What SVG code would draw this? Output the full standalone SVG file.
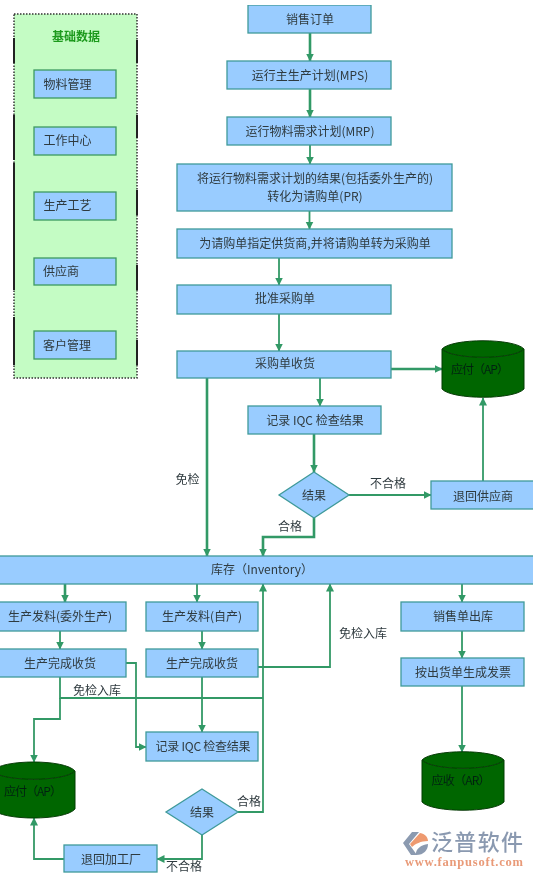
<svg xmlns="http://www.w3.org/2000/svg" width="533" height="876" viewBox="0 0 533 876">
<defs>
<style>
.b{fill:#99ccff;stroke:#3f9a9a;stroke-width:1.3}
.g{fill:#99ccff;stroke:#3d9a60;stroke-width:1.3}
.t{font-family:"Noto Sans CJK SC","Noto Sans",sans-serif;font-size:12px;fill:#2f3a3f;text-anchor:middle}
.c{fill:none;stroke:#339966;stroke-width:1.8;marker-end:url(#a)}
.h{stroke-width:2.6}
.n{fill:none;stroke:#339966;stroke-width:1.8}
.cy{fill:#006600;stroke:#0b3d0b;stroke-width:1}
.cl{fill:none;stroke:#0b3d0b;stroke-width:1}
.d{fill:#06240f}
.s{stroke:#222;stroke-width:2;fill:none}
</style>
<marker id="a" markerUnits="userSpaceOnUse" markerWidth="9" markerHeight="10" refX="7.5" refY="4" orient="auto"><path d="M0 0L8 4L0 8Z" fill="#339966"/></marker>
<filter id="soft" x="0" y="0" width="100%" height="100%"><feGaussianBlur stdDeviation="0.35"/></filter>
</defs>
<rect width="533" height="876" fill="#fff"/>
<g filter="url(#soft)">
<g id="connectors">
<path class="c h" d="M310 33V61"/><path class="c h" d="M310 89V117"/><path class="c" d="M310 145V164"/><path class="c" d="M309.500 211V229"/><path class="c" d="M279 258V285"/><path class="c" d="M279 314V351"/>
<path class="c h" d="M391 369H442"/><path class="c h" d="M207 378V556"/><path class="c" d="M320 378V406"/><path class="c h" d="M314 434V472"/><path class="c" d="M349 495H431"/><path class="c h" d="M314 518V537H263V556"/><path class="c" d="M483 481V398"/>
<path class="c h" d="M65 584V602"/><path class="c" d="M197 584V602"/><path class="c" d="M60 631V649"/><path class="c" d="M202 631V649"/><path class="c" d="M202 677V732"/>
<path class="c" d="M126 663H136V747H146"/><path class="n" d="M60 677V698H263"/><path class="c" d="M60 698V719H34V762"/><path class="c" d="M258 667H330V584"/><path class="c" d="M238 812H263V584"/>
<path class="c" d="M202 835V859H157"/><path class="c" d="M64 859H34V818"/>
<path class="c" d="M462 584V602"/><path class="c" d="M462 631V658"/><path class="c" d="M462 686V752"/>
</g>
<g id="panel"><rect x="14" y="14" width="123" height="364" fill="#c4fcc4" stroke="#333" stroke-width="1.5" stroke-dasharray="1.500 1.500"/>
<path class="s" d="M14 38V63M14 115V160M14 163V290M14 317V365M137 40V63M137 115V138M137 190V215M137 265V290M137 340V365"/>
<text x="76" y="41" class="t" style="fill:#1f9a1f;font-weight:700">基础数据</text></g>
<g id="n-material"><rect class="g" x="34" y="70" width="82" height="28"/><text x="67.500" y="89" class="t">物料管理</text></g>
<g id="n-workcenter"><rect class="g" x="34" y="127" width="82" height="28"/><text x="67.500" y="145" class="t">工作中心</text></g>
<g id="n-process"><rect class="g" x="34" y="192" width="82" height="28"/><text x="67.500" y="210" class="t">生产工艺</text></g>
<g id="n-supplier"><rect class="g" x="34" y="258" width="82" height="27"/><text x="61" y="276" class="t">供应商</text></g>
<g id="n-customer"><rect class="g" x="34" y="331" width="82" height="28"/><text x="67" y="350" class="t">客户管理</text></g>
<g id="n-so"><rect class="b" x="248" y="5" width="123" height="28"/><text x="310" y="24" class="t">销售订单</text></g>
<g id="n-mps"><rect class="b" x="227" y="61" width="164" height="28"/><text x="310" y="80" class="t">运行主生产计划(MPS)</text></g>
<g id="n-mrp"><rect class="b" x="227" y="117" width="164" height="28"/><text x="310" y="136" class="t">运行物料需求计划(MRP)</text></g>
<g id="n-pr"><rect class="b" x="177" y="164" width="275" height="47"/><text x="315" y="183" class="t">将运行物料需求计划的结果(包括委外生产的)</text><text x="315" y="201" class="t">转化为请购单(PR)</text></g>
<g id="n-po"><rect class="b" x="177" y="229" width="275" height="29"/><text x="315" y="248" class="t">为请购单指定供货商,并将请购单转为采购单</text></g>
<g id="n-approve"><rect class="b" x="177" y="285" width="214" height="29"/><text x="285" y="303" class="t">批准采购单</text></g>
<g id="n-receive"><rect class="b" x="177" y="351" width="214" height="27"/><text x="285" y="368" class="t">采购单收货</text></g>
<g id="n-iqc"><rect class="b" x="248" y="406" width="133" height="28"/><text x="315" y="425" class="t">记录 IQC 检查结果</text></g>
<g id="n-dec"><path d="M314 472L349 495L314 518L279 495Z" class="b"/><text x="314" y="500" class="t">结果</text></g>
<g id="n-return"><rect class="b" x="431" y="481" width="103" height="28"/><text x="483" y="501" class="t">退回供应商</text></g>
<g id="n-ap"><path class="cy" d="M442 349C452 338 514 338 524 349V389C514 400 452 400 442 389Z"/><path class="cl" d="M442 349C452 360 514 360 524 349"/><text x="480" y="374" class="t d" textLength="58">应付（AP）</text></g>
<g id="n-inv"><rect class="b" x="-2" y="556" width="537" height="28"/><text x="262" y="574" class="t">库存（Inventory）</text></g>
<g id="n-issue1"><rect class="b" x="-2" y="602" width="128" height="29"/><text x="60" y="621" class="t">生产发料(委外生产)</text></g>
<g id="n-issue2"><rect class="b" x="146" y="602" width="112" height="29"/><text x="202" y="621" class="t">生产发料(自产)</text></g>
<g id="n-done1"><rect class="b" x="-2" y="649" width="128" height="28"/><text x="60" y="668" class="t">生产完成收货</text></g>
<g id="n-done2"><rect class="b" x="146" y="649" width="112" height="28"/><text x="202" y="668" class="t">生产完成收货</text></g>
<g id="n-iqc2"><rect class="b" x="146" y="732" width="112" height="29"/><text x="203" y="751" class="t" textLength="95">记录 IQC 检查结果</text></g>
<g id="n-dec2"><path d="M202 789L238 812L202 835L166 812Z" class="b"/><text x="202" y="817" class="t">结果</text></g>
<g id="n-ret2"><rect class="b" x="64" y="845" width="93" height="27"/><text x="111" y="864" class="t">退回加工厂</text></g>
<g id="n-ap2"><path class="cy" d="M-8 771C2 759 65 759 75 771V809C65 821 2 821 -8 809Z"/><path class="cl" d="M-8 771C2 782 65 782 75 771"/><text x="33" y="796" class="t d" textLength="58">应付（AP）</text></g>
<g id="n-ship"><rect class="b" x="401" y="602" width="123" height="29"/><text x="463" y="621" class="t">销售单出库</text></g>
<g id="n-inv2"><rect class="b" x="401" y="658" width="123" height="28"/><text x="463" y="677" class="t">按出货单生成发票</text></g>
<g id="n-ar"><path class="cy" d="M422 760C432 749 494 749 504 760V802C494 813 432 813 422 802Z"/><path class="cl" d="M422 760C432 771 494 771 504 760"/><text x="461" y="785" class="t d" textLength="59">应收（AR）</text></g>
<g id="labels">
<text x="187.500" y="484" class="t">免检</text><text x="388" y="488" class="t">不合格</text><text x="290" y="531" class="t">合格</text>
<text x="363" y="638" class="t">免检入库</text><text x="97" y="695" class="t">免检入库</text><text x="249" y="806" class="t">合格</text><text x="184" y="871" class="t">不合格</text>
</g>
<g id="logo">
<path d="M403 843L412 832H419L409 844L417 855H411Z" fill="#8b9ab0"/><path d="M420 833C426 834 428 838 428 841C421 841 415 844 412 847L410 844Z" fill="#ee9a70"/><path d="M416 855C415 849 421 845 428 844C428 850 424 855 416 855Z" fill="#8b9ab0"/>
<text x="477" y="850" textLength="92" style="font-family:'Noto Sans CJK SC',sans-serif;font-size:22px;font-weight:500;fill:#8a99b0;text-anchor:middle">泛普软件</text>
<text x="464" y="866" textLength="118" style="font-family:'Liberation Serif',serif;font-size:12.500px;font-weight:700;fill:#e99a78;text-anchor:middle">www.fanpusoft.com</text>
</g>
</g>
</svg>
